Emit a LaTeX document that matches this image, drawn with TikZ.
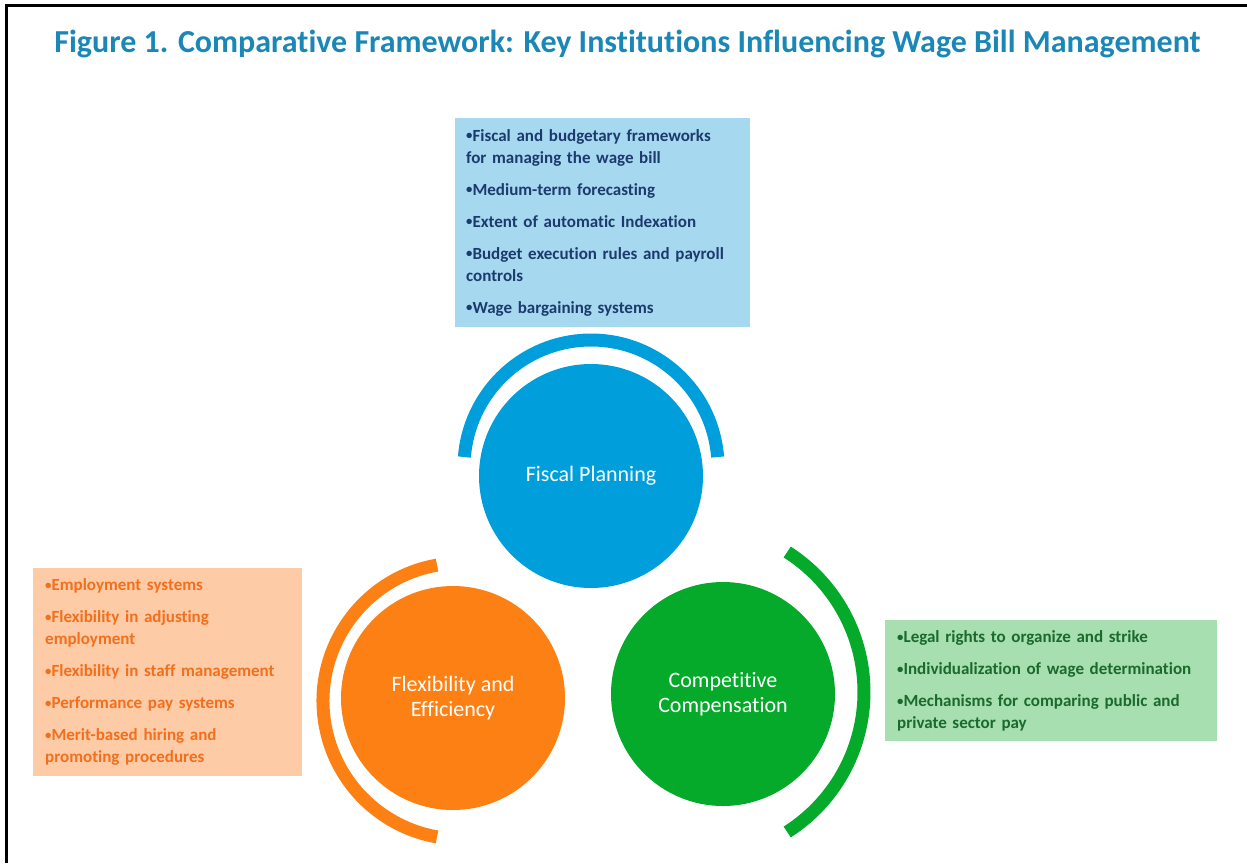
\documentclass[tikz,border=0pt]{standalone}
\usepackage{fontspec}
\setmainfont{Carlito}[Ligatures=NoCommon]
\usepackage{tikz}
\usetikzlibrary{positioning}
\definecolor{ttl}{HTML}{1A87B6}
\definecolor{fisc}{HTML}{009FDB}
\definecolor{flex}{HTML}{FD8015}
\definecolor{comp}{HTML}{05AA2A}
\definecolor{fiscbg}{HTML}{A6D8EF}
\definecolor{flexbg}{HTML}{FDCBA6}
\definecolor{compbg}{HTML}{A7DFB0}
\definecolor{fisctx}{HTML}{1D3A6E}
\definecolor{flextx}{HTML}{F26F1E}
\definecolor{comptx}{HTML}{1A6A2C}
\tikzset{
  hub/.style={circle,minimum size=224pt,inner sep=0pt,text=white,align=center,font=\fontsize{22}{25}\selectfont},
  list/.style={anchor=north west,inner xsep=11pt,inner ysep=0pt,align=left,font=\bfseries\fontsize{17}{22}\selectfont},
  band/.style={line width=13pt},
  frame/.style={line width=3pt,black},
}
\newcommand{\nx}{\\[10pt]}
\newcommand{\bl}{\raisebox{0.15ex}{\scalebox{0.75}{•}}}

\begin{document}
\begin{tikzpicture}[x=1pt,y=1pt]
\useasboundingbox (0,0) rectangle (1247,-863);
\draw[frame] (6.5,-863) -- (6.5,-5) -- (1247,-5);
\node[anchor=base,text=ttl,font=\bfseries\fontsize{32}{36}\selectfont] (title) at (627.5,-52)
  {Figure 1. Comparative Framework: Key Institutions Influencing Wage Bill Management};
% the three institutions
\node[hub,fill=fisc] (fp) at (591,-476) {Fiscal Planning};
\node[hub,fill=flex] (fe) at (453,-698) {Flexibility and\\Efficiency};
\node[hub,fill=comp] (cc) at (723,-694) {Competitive\\Compensation};
\draw[band,fisc] (591,-467) ++(4.5:127) arc[start angle=4.5,end angle=175.5,radius=127];
\draw[band,flex] (461,-701) ++(100:138) arc[start angle=100,end angle=260,radius=138];
\draw[band,comp] (698,-692) ++(-57.5:166) arc[start angle=-57.5,end angle=57.5,radius=166];
% lists
\node[list,fill=fiscbg,text=fisctx,text width=273pt,minimum width=295pt,minimum height=209pt] (fpl) at (455,-118)
  {\bl Fiscal and budgetary frameworks\\for managing the wage bill\nx
   \bl Medium-term forecasting\nx
   \bl Extent of automatic Indexation\nx
   \bl Budget execution rules and payroll\\controls\nx
   \bl Wage bargaining systems};
\node[list,fill=flexbg,text=flextx,text width=245pt,minimum width=267pt,minimum height=208pt,inner xsep=12pt] (fel) at (33,-568)
  {\bl Employment systems\nx
   \bl Flexibility in adjusting\\employment\nx
   \bl Flexibility in staff management\nx
   \bl Performance pay systems\nx
   \bl Merit-based hiring and\\promoting procedures};
\node[list,fill=compbg,text=comptx,text width=308pt,minimum width=332pt,minimum height=121pt,inner xsep=12pt] (ccl) at (885,-620)
  {\bl Legal rights to organize and strike\nx
   \bl Individualization of wage determination\nx
   \bl Mechanisms for comparing public and\\private sector pay};
\end{tikzpicture}
\end{document}
